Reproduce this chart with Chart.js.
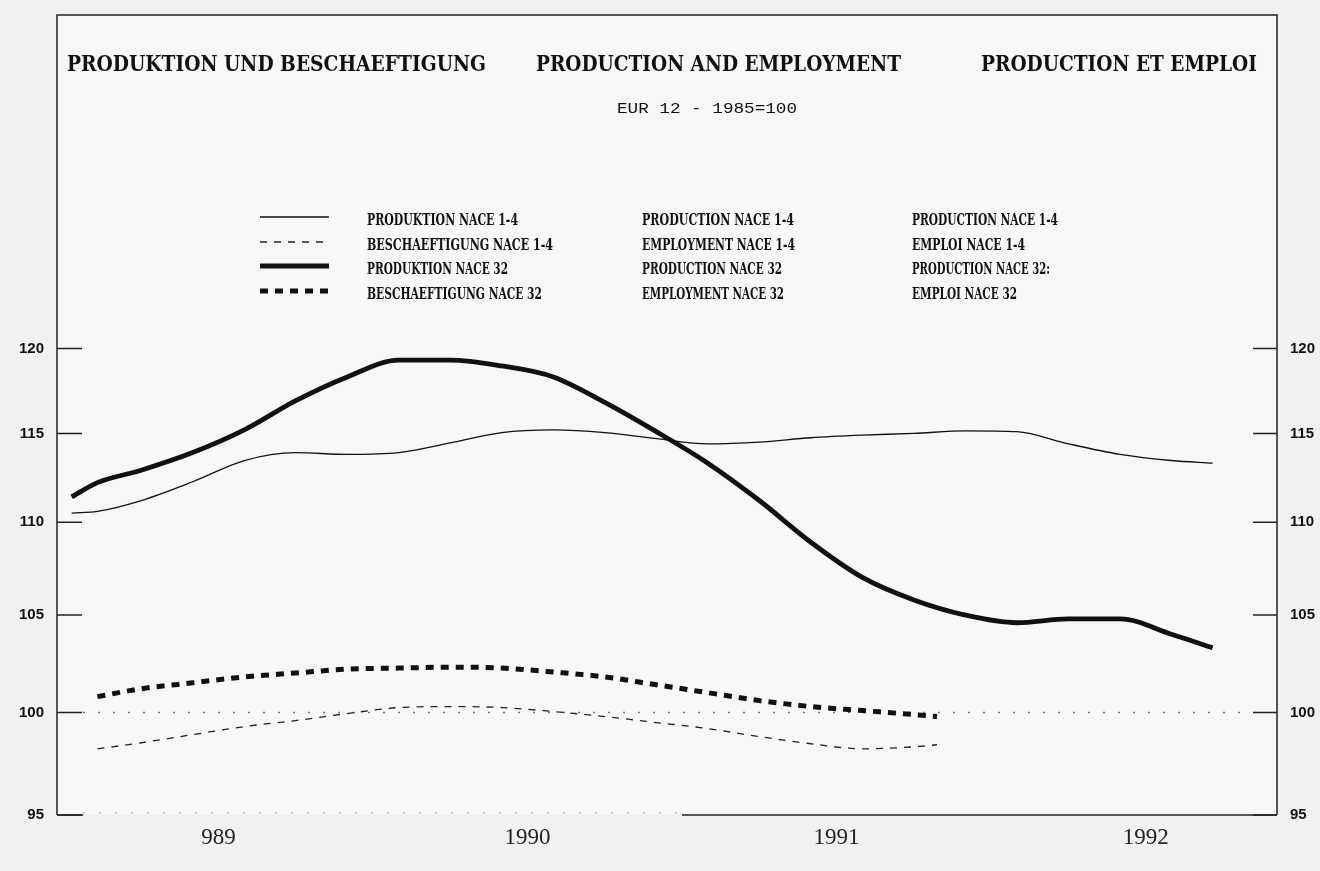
<!DOCTYPE html>
<html>
<head>
<meta charset="utf-8">
<script src="https://cdn.jsdelivr.net/npm/chart.js@4/dist/chart.umd.min.js"></script>
<style>
  html, body { margin: 0; padding: 0; background: #f1f1f1; }
  canvas { display: block; }
</style>
</head>
<body>
<canvas id="c" width="1320" height="871"></canvas>
<script>
// ---- data (x = months since January 1989) ----
const monthsProd = [0.3, 1.3, 3, 5, 7, 9, 11, 13, 15, 17, 19, 21, 23, 25, 27, 29, 31, 33, 35, 37, 39, 41, 43, 44.6];
const prodNace14 = [110.5, 110.6, 111.2, 112.25, 113.45, 113.9, 113.8, 113.9, 114.45, 115.05, 115.2, 115.05, 114.7, 114.4, 114.5, 114.75, 114.9, 115.0, 115.15, 115.1, 114.4, 113.8, 113.45, 113.3];
const prodNace32 = [111.4, 112.2, 112.9, 113.9, 115.2, 116.9, 118.3, 119.3, 119.3, 118.95, 118.3, 116.8, 115.1, 113.3, 111.2, 108.9, 107.0, 105.8, 105.0, 104.6, 104.8, 104.8, 104.0, 103.3];
const monthsEmpl = [1.3, 3, 5, 7, 9, 11, 13, 15, 17, 19, 21, 23, 25, 27, 29, 31, 33, 33.9];
const emplNace14 = [98.2, 98.5, 98.9, 99.3, 99.6, 99.95, 100.25, 100.3, 100.25, 100.05, 99.8, 99.5, 99.2, 98.8, 98.45, 98.2, 98.3, 98.4];
const emplNace32 = [100.8, 101.2, 101.5, 101.8, 102.0, 102.2, 102.25, 102.3, 102.25, 102.05, 101.8, 101.4, 101.0, 100.6, 100.3, 100.1, 99.9, 99.8];
const yearLabels = ['989', '1990', '1991', '1992'];
const yearTickMonths = [6, 18, 30, 42];
const yTickValues = [95, 100, 105, 110, 115, 120];
const referenceValue = 100;

const titles = ['PRODUKTION UND BESCHAEFTIGUNG', 'PRODUCTION AND EMPLOYMENT', 'PRODUCTION ET EMPLOI'];
const subtitle = 'EUR 12 - 1985=100';
const legendDE = ['PRODUKTION NACE 1-4', 'BESCHAEFTIGUNG NACE 1-4', 'PRODUKTION NACE 32', 'BESCHAEFTIGUNG NACE 32'];
const legendEN = ['PRODUCTION NACE 1-4', 'EMPLOYMENT NACE 1-4', 'PRODUCTION NACE 32', 'EMPLOYMENT NACE 32'];
const legendFR = ['PRODUCTION NACE 1-4', 'EMPLOI NACE 1-4', 'PRODUCTION NACE 32:', 'EMPLOI NACE 32'];

const toXY = (xs, ys) => xs.map((x, i) => ({ x: x, y: ys[i] }));
const INK = '#111';

function fitText(ctx, text, x, y, targetW, font) {
  ctx.font = font;
  const w = ctx.measureText(text).width;
  ctx.save();
  ctx.translate(x, y);
  ctx.scale(targetW / w, 1);
  ctx.fillText(text, 0, 0);
  ctx.restore();
}

const decorPlugin = {
  id: 'decor',
  beforeDraw(chart) {
    const ctx = chart.ctx;
    const a = chart.chartArea;
    ctx.save();
    ctx.fillStyle = '#f1f1f1';
    ctx.fillRect(0, 0, chart.width, chart.height);
    ctx.fillStyle = '#f7f7f7';
    ctx.fillRect(a.left, a.top, a.right - a.left, a.bottom - a.top);
    ctx.restore();
  },
  beforeDatasetsDraw(chart) {
    const ctx = chart.ctx;
    const a = chart.chartArea;
    const ys = chart.scales.y;
    const py = ys.getPixelForValue(referenceValue);
    ctx.save();
    ctx.strokeStyle = '#777';
    ctx.lineWidth = 1.5;
    ctx.setLineDash([2, 13]);
    ctx.beginPath();
    ctx.moveTo(a.left + 26, py);
    ctx.lineTo(a.right - 24, py);
    ctx.stroke();
    ctx.restore();
  },
  afterDraw(chart) {
    const ctx = chart.ctx;
    const a = chart.chartArea;
    const ys = chart.scales.y;
    ctx.save();
    // frame
    ctx.strokeStyle = '#222';
    ctx.lineWidth = 1.5;
    ctx.beginPath();
    ctx.moveTo(a.left, a.bottom);
    ctx.lineTo(a.left, a.top);
    ctx.lineTo(a.right, a.top);
    ctx.lineTo(a.right, a.bottom);
    ctx.stroke();
    // bottom border: solid ends, faint dotted middle
    ctx.beginPath();
    ctx.moveTo(a.left, a.bottom);
    ctx.lineTo(a.left + 26, a.bottom);
    ctx.moveTo(a.left + 625, a.bottom);
    ctx.lineTo(a.right, a.bottom);
    ctx.stroke();
    ctx.strokeStyle = '#999';
    ctx.lineWidth = 1;
    ctx.setLineDash([2, 14]);
    ctx.beginPath();
    ctx.moveTo(a.left + 26, a.bottom - 2);
    ctx.lineTo(a.left + 625, a.bottom - 2);
    ctx.stroke();
    ctx.setLineDash([]);
    // inward tick marks
    ctx.strokeStyle = '#222';
    ctx.lineWidth = 1.5;
    yTickValues.forEach(v => {
      const py = ys.getPixelForValue(v);
      ctx.beginPath();
      ctx.moveTo(a.left, py);
      ctx.lineTo(a.left + 25, py);
      ctx.moveTo(a.right - 24, py);
      ctx.lineTo(a.right, py);
      ctx.stroke();
    });
    // titles
    ctx.fillStyle = '#111';
    ctx.textBaseline = 'alphabetic';
    ctx.textAlign = 'left';
    const tFont = 'bold 22px "DejaVu Serif"';
    fitText(ctx, titles[0], 67, 71, 419, tFont);
    fitText(ctx, titles[1], 536, 71, 365, tFont);
    fitText(ctx, titles[2], 981, 71, 276, tFont);
    fitText(ctx, subtitle, 617, 113, 180, '15px "Liberation Mono"');
    // legend
    const ds = chart.data.datasets;
    const rows = [219, 244, 268, 293];
    const order = [0, 2, 1, 3]; // dataset index for each legend row
    const deW = [151, 186, 141, 175];
    const enW = [152, 153, 140, 142];
    const frW = [146, 113, 138, 105];
    rows.forEach((ry, i) => {
      const d = ds[order[i]];
      ctx.save();
      ctx.strokeStyle = d.borderColor;
      ctx.lineWidth = d.borderWidth;
      ctx.setLineDash(d.borderDash || []);
      ctx.beginPath();
      ctx.moveTo(260, ry - 2);
      ctx.lineTo(329, ry - 2);
      ctx.stroke();
      ctx.restore();
      const lf = 'bold 16px "DejaVu Serif"';
      fitText(ctx, legendDE[i], 367, ry + 6, deW[i], lf);
      fitText(ctx, legendEN[i], 642, ry + 6, enW[i], lf);
      fitText(ctx, legendFR[i], 912, ry + 6, frW[i], lf);
    });
    ctx.restore();
  }
};

const yScaleBase = {
  type: 'logarithmic',
  min: 95,
  max: 141.8,
  grid: { display: false, drawTicks: false },
  border: { display: false },
  afterBuildTicks: s => { s.ticks = yTickValues.map(v => ({ value: v })); },
  ticks: {
    callback: v => String(v),
    color: '#111',
    padding: 13,
    font: { family: 'Liberation Sans', size: 15, weight: 'bold' }
  }
};

new Chart(document.getElementById('c'), {
  type: 'line',
  data: {
    datasets: [
      { label: 'PRODUKTION NACE 1-4', data: toXY(monthsProd, prodNace14), borderColor: INK, borderWidth: 1.3, pointRadius: 0, cubicInterpolationMode: 'monotone', fill: false },
      { label: 'PRODUKTION NACE 32', data: toXY(monthsProd, prodNace32), borderColor: INK, borderWidth: 4.8, pointRadius: 0, cubicInterpolationMode: 'monotone', fill: false },
      { label: 'BESCHAEFTIGUNG NACE 1-4', data: toXY(monthsEmpl, emplNace14), borderColor: '#222', borderWidth: 1.3, borderDash: [7, 7], pointRadius: 0, cubicInterpolationMode: 'monotone', fill: false },
      { label: 'BESCHAEFTIGUNG NACE 32', data: toXY(monthsEmpl, emplNace32), borderColor: INK, borderWidth: 5, borderDash: [8, 7], pointRadius: 0, cubicInterpolationMode: 'monotone', fill: false }
    ]
  },
  options: {
    responsive: false,
    animation: false,
    layout: { padding: { top: 15 } },
    plugins: { legend: { display: false }, tooltip: { enabled: false } },
    scales: {
      x: {
        type: 'linear',
        min: -0.27,
        max: 47.1,
        grid: { display: false, drawTicks: false },
        border: { display: false },
        afterBuildTicks: s => { s.ticks = yearTickMonths.map(v => ({ value: v })); },
        afterFit: s => { s.height = 56; s.paddingLeft = 0; s.paddingRight = 0; },
        ticks: {
          callback: v => yearLabels[yearTickMonths.indexOf(v)],
          color: '#222',
          padding: 9,
          maxRotation: 0,
          autoSkip: false,
          font: { family: 'Liberation Serif', size: 23 }
        }
      },
      y: Object.assign({}, yScaleBase, { position: 'left', afterFit: s => { s.width = 57; s.paddingTop = 0; s.paddingBottom = 0; } }),
      y2: Object.assign({}, yScaleBase, { position: 'right', afterFit: s => { s.width = 43; s.paddingTop = 0; s.paddingBottom = 0; } })
    }
  },
  plugins: [decorPlugin]
});
</script>
</body>
</html>
